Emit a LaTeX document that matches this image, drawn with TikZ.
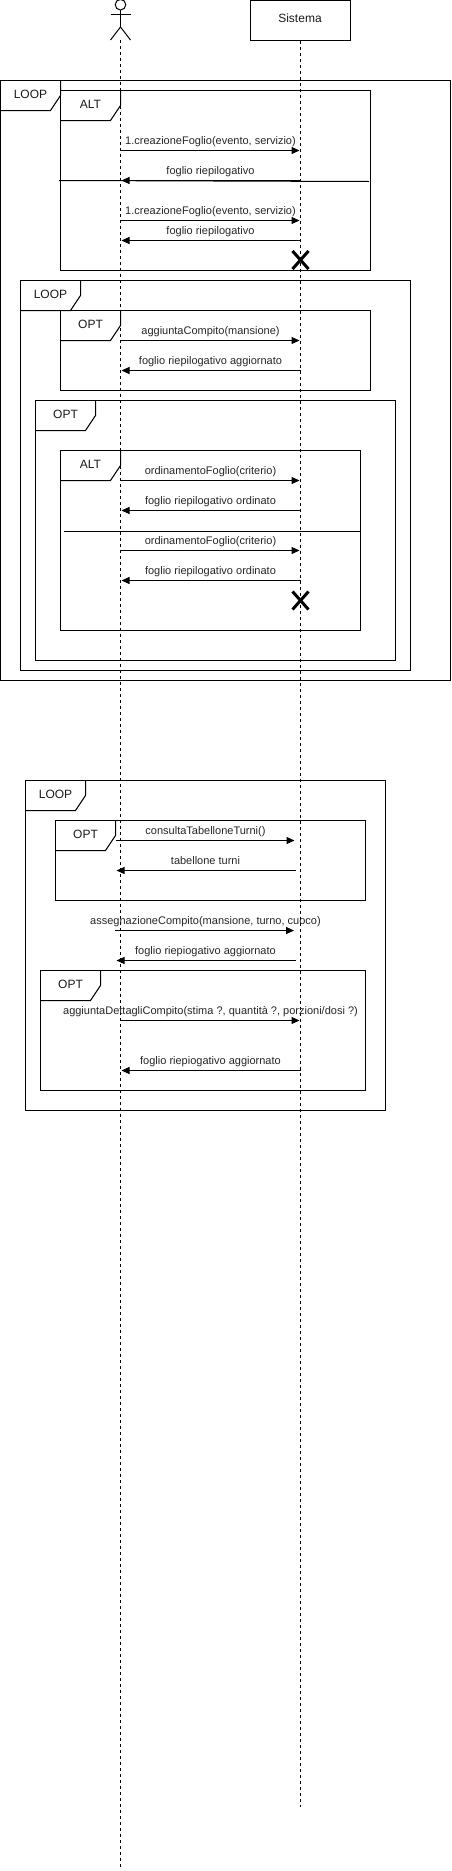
\documentclass[tikz,border=0pt]{standalone}
\usepackage{fontspec}
\setmainfont{Liberation Sans}
\usetikzlibrary{arrows.meta}
\tikzset{
  ln/.style={line width=1pt,draw=black},
  lifeline/.style={ln,dash pattern=on 3pt off 3pt},
  msg/.style={ln,-{Triangle[length=8pt,width=7pt]},shorten >=1pt},
  msgtext/.style={font=\fontsize{11}{13}\selectfont,inner sep=0pt,text=black!85,anchor=base},
  frametext/.style={font=\fontsize{12}{14}\selectfont,inner sep=0pt,text=black!90,anchor=base},
  kill/.style={line width=3pt,draw=black},
}
% \umlframe: name, x1, y1, x2, y2, label
\newcommand{\umlframe}[6]{%
  \draw[ln] (#2,#3) rectangle (#4,#5);
  \draw[ln] (#2+60,#3) -- (#2+60,#3+15) -- (#2+50,#3+30) -- (#2,#3+30);
  \node[frametext] (#1) at (#2+30,#3+18) {#6};
}
% \umlmsg: name, from x, to x, y, text x, label
\newcommand{\umlmsg}[6]{%
  \coordinate (#1s) at (#2,#4);
  \coordinate (#1e) at (#3,#4);
  \draw[msg] (#1s) -- (#1e);
  \node[msgtext] (#1t) at (#5,#4-6.2) {#6};
}
\newcommand{\umlkill}[3]{%
  \coordinate (#1a) at (#2-8,#3-9);
  \coordinate (#1b) at (#2+8,#3+9);
  \coordinate (#1c) at (#2+8,#3-9);
  \coordinate (#1d) at (#2-8,#3+9);
  \draw[kill] (#1a) -- (#1b);
  \draw[kill] (#1c) -- (#1d);
}
\begin{document}
\begin{tikzpicture}[x=1pt,y=-1pt]
\useasboundingbox (0,0) rectangle (451,1871);
% actor
\draw[ln] (120.5,4.7) circle (5.3pt);
\coordinate (neck) at (120.5,10);
\coordinate (hip) at (120.5,27);
\coordinate (arml) at (110.5,14);
\coordinate (armr) at (130.5,14);
\coordinate (legl) at (110.5,40);
\coordinate (legr) at (130.5,40);
\draw[ln] (neck) -- (hip);
\draw[ln] (arml) -- (armr);
\draw[ln] (legl) -- (hip) -- (legr);
% system
\node[ln,draw,outer sep=0pt,minimum width=100pt,minimum height=40pt,inner sep=0pt,anchor=north west] (sys) at (250.5,0.5) {};
\node[frametext] (systext) at (300,23) {Sistema};
% lifelines
\coordinate (actorend) at (120.5,1868);
\coordinate (sysend) at (300.5,1807);
\draw[lifeline] (hip |- legl) -- (actorend);
\draw[lifeline] (sys.south) -- (sysend);
% upper part
\umlframe{f1}{0.5}{80.5}{450.5}{680.5}{LOOP}
\umlframe{f2}{60.5}{90.5}{370.5}{270.5}{ALT}
\umlmsg{m1}{120.5}{300.5}{150.5}{210.5}{1.creazioneFoglio(evento, servizio)}
\umlmsg{m2}{300.5}{120.5}{180.5}{210.5}{foglio riepilogativo}
\coordinate (s1a) at (59,180.5);
\coordinate (s1b) at (369,181.5);
\draw[ln] (s1a) -- (s1b);
\umlmsg{m3}{120.5}{300.5}{220.5}{210.5}{1.creazioneFoglio(evento, servizio)}
\umlmsg{m4}{300.5}{120.5}{240.5}{210.5}{foglio riepilogativo}
\umlkill{x1}{300.5}{260}
\umlframe{f3}{20.5}{280.5}{410.5}{670.5}{LOOP}
\umlframe{f4}{60.5}{310.5}{370.5}{390.5}{OPT}
\umlmsg{m5}{120.5}{300.5}{340.5}{210.5}{aggiuntaCompito(mansione)}
\umlmsg{m6}{300.5}{120.5}{370.5}{210.5}{foglio riepilogativo aggiornato}
\umlframe{f5}{35.5}{400.5}{395.5}{660.5}{OPT}
\umlframe{f6}{60.5}{450.5}{360.5}{630.5}{ALT}
\umlmsg{m7}{120.5}{300.5}{480.5}{210.5}{ordinamentoFoglio(criterio)}
\umlmsg{m8}{300.5}{120.5}{510.5}{210.5}{foglio riepilogativo ordinato}
\coordinate (s2a) at (63.5,531.5);
\coordinate (s2b) at (360.5,531.5);
\draw[ln] (s2a) -- (s2b);
\umlmsg{m9}{120.5}{300.5}{550.5}{210.5}{ordinamentoFoglio(criterio)}
\umlmsg{m10}{300.5}{120.5}{580.5}{210.5}{foglio riepilogativo ordinato}
\umlkill{x2}{300.5}{600.5}
% lower part
\umlframe{f7}{25.5}{780.5}{385.5}{1110.5}{LOOP}
\umlframe{f8}{55.5}{820.5}{365.5}{900.5}{OPT}
\umlmsg{m11}{115.5}{295.5}{840.5}{205.5}{consultaTabelloneTurni()}
\umlmsg{m12}{295.5}{115.5}{870.5}{205.5}{tabellone turni}
\umlmsg{m13}{115}{295}{930.5}{205.5}{assegnazioneCompito(mansione, turno, cuoco)}
\umlmsg{m14}{295.5}{115.5}{960.5}{205.5}{foglio riepiogativo aggiornato}
\umlframe{f9}{40.5}{970.5}{365.5}{1090.5}{OPT}
\umlmsg{m15}{120.5}{300.5}{1020.5}{210.5}{aggiuntaDettagliCompito(stima ?, quantità ?, porzioni/dosi ?)}
\umlmsg{m16}{300.5}{120.5}{1070.5}{210.5}{foglio riepiogativo aggiornato}
\end{tikzpicture}
\end{document}
